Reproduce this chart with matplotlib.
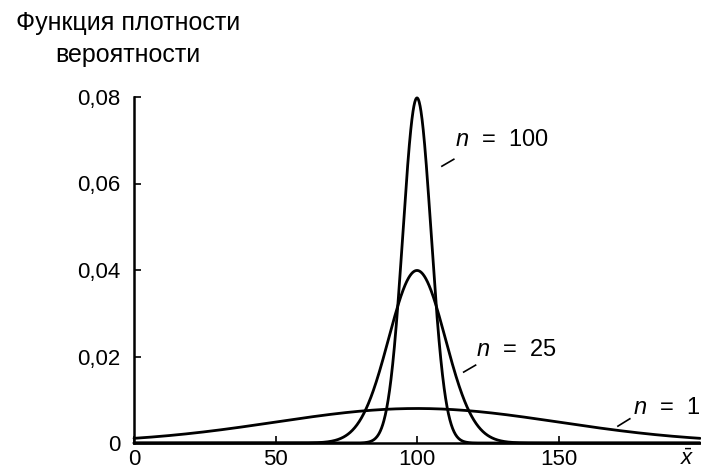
import numpy as np
import matplotlib
matplotlib.use("Agg")
import matplotlib.pyplot as plt

# --- data ---
sample_sizes = [1, 25, 100]
population_mean = 100.0
population_sigma = 50.0
x_ticks = [0, 50, 100, 150]
x_tick_labels = ["0", "50", "100", "150"]
y_ticks = [0, 0.02, 0.04, 0.06, 0.08]
y_tick_labels = ["0", "0,02", "0,04", "0,06", "0,08"]
title_text = "Функция плотности\nвероятности"
curve_labels = {1: "$n$  =  1", 25: "$n$  =  25", 100: "$n$  =  100"}

plt.rcParams['font.family'] = ['Liberation Sans', 'DejaVu Sans']
plt.rcParams['mathtext.fontset'] = 'custom'
plt.rcParams['mathtext.it'] = 'Liberation Sans:italic'
plt.rcParams['mathtext.rm'] = 'Liberation Sans'

fig = plt.figure(figsize=(7.01, 4.70), dpi=100)
ax = fig.add_axes([134/701, 1-443/470, (700-134)/701, (443-97)/470])

x = np.linspace(0, 200, 2001)
for n in sample_sizes:
    s = population_sigma/np.sqrt(n)
    y = np.exp(-0.5*((x-population_mean)/s)**2)/(s*np.sqrt(2*np.pi))
    ax.plot(x, y, color='black', lw=2.0, clip_on=False, solid_capstyle='round')

ax.set_xlim(0, 200)
ax.set_ylim(0, 0.08)
for sp in ['top', 'right']:
    ax.spines[sp].set_visible(False)
for sp in ['left', 'bottom']:
    ax.spines[sp].set_linewidth(1.8)

ax.set_xticks(x_ticks)
ax.set_xticklabels(x_tick_labels, fontsize=16)
ax.set_yticks(y_ticks)
ax.set_yticklabels(y_tick_labels, fontsize=16)
ax.tick_params(axis='both', direction='in', length=5, width=1.2)
ax.tick_params(axis='y', pad=10)
ax.tick_params(axis='x', pad=4)

# x-bar label at the end of the axis
ax.text(195.5, -0.0013, r"$\bar{x}$", fontsize=16, ha='center', va='top', clip_on=False)

# title
fig.text(128/701, 1-39/470, title_text, fontsize=18, ha='center', va='center',
         linespacing=1.45)

# curve labels and leader lines
lbl_pos = {1: (176.3, 0.0082), 25: (121, 0.0216), 100: (113.5, 0.0701)}
leaders = {1: ((171.0, 0.0039), (175.2, 0.0056)),
           25: ((116.5, 0.0164), (120.7, 0.0180)),
           100: ((108.8, 0.0640), (113.0, 0.0656))}
for n in sample_sizes:
    px, py = lbl_pos[n]
    ax.text(px, py, curve_labels[n], fontsize=17, ha='left', va='center', clip_on=False)
    (x0, y0), (x1, y1) = leaders[n]
    ax.plot([x0, x1], [y0, y1], color='black', lw=1.2, clip_on=False)

fig.savefig("out.png", dpi=100)
